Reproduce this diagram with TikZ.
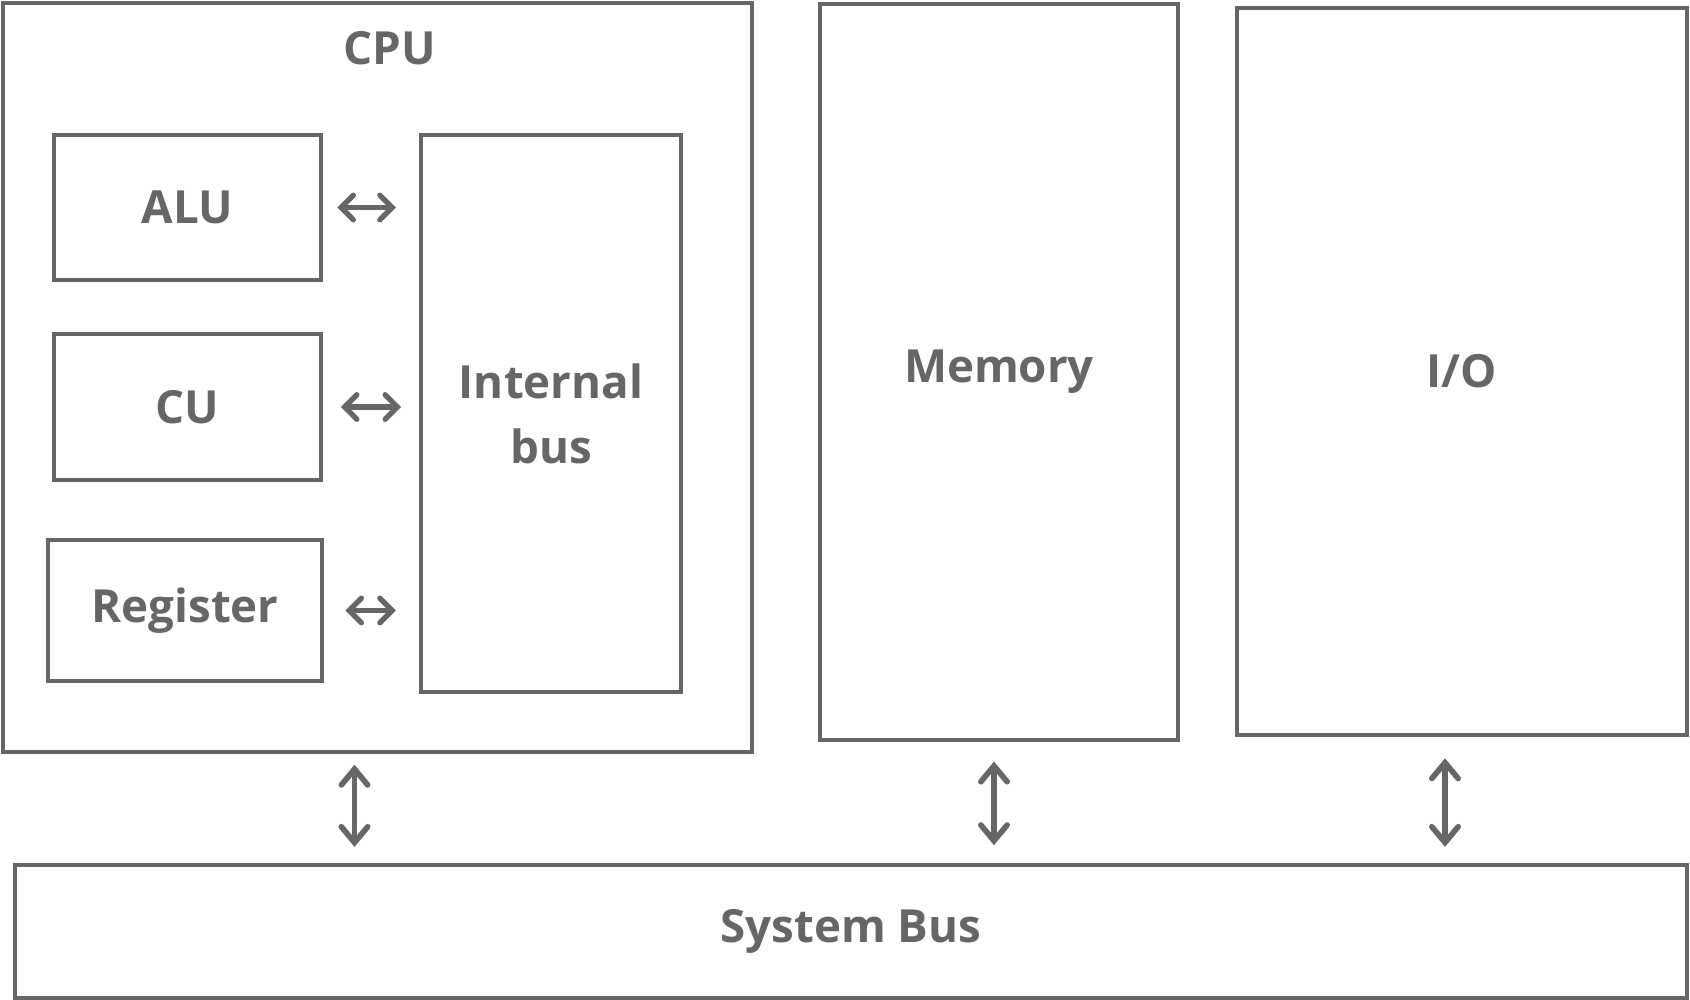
\documentclass[tikz,border=0pt]{standalone}
\usepackage{fontspec}
\setmainfont{Open Sans}
\usetikzlibrary{arrows.meta}
\definecolor{ink}{HTML}{666666}
\tikzset{
  box/.style={draw=ink, line width=2.6pt, rectangle, inner sep=0pt, text=ink,
    font=\fontsize{26}{37}\selectfont\bfseries, align=center},
  link/.style={draw=ink, line width=3pt, line cap=round,
    {Straight Barb[length=7pt,width=14pt,line cap=round]}-{Straight Barb[length=7pt,width=14pt,line cap=round]}},
  vlink/.style={draw=ink, line width=3.2pt, line cap=round,
    {Straight Barb[length=9pt,width=15pt,line cap=round]}-{Straight Barb[length=9pt,width=15pt,line cap=round]}},
  lbl/.style={text=ink, font=\fontsize{26}{37}\selectfont\bfseries, inner sep=0pt}
}
\begin{document}
\begin{tikzpicture}[x=0.02cm,y=-0.02cm]
\useasboundingbox (0,0) rectangle (1690,1000);
% boxes
\node[box, minimum width=14.98cm, minimum height=14.98cm] (cpu) at (377.5,377.5) {};
\node[lbl] (cputxt) at (390,48) {CPU};
\node[box, minimum width=5.34cm, minimum height=2.9cm] (alu) at (187.5,207.5) {ALU};
\node[box, minimum width=5.34cm, minimum height=2.92cm] (cu) at (187.5,407) {CU};
\node[box, minimum width=5.48cm, minimum height=2.82cm] (reg) at (185,610.5) {Register};
\node[box, minimum width=5.2cm, minimum height=11.14cm] (ibus) at (551,413.5) {Internal\\bus};
\node[box, minimum width=7.16cm, minimum height=14.72cm] (mem) at (999,372) {Memory};
\node[box, minimum width=9.0cm, minimum height=14.54cm] (io) at (1462,371.5) {I/O};
\node[box, minimum width=33.44cm, minimum height=2.66cm] (sbus) at (851,931.5) {System Bus};
% internal links
\draw[link, shorten <=8pt, shorten >=13pt] (alu.east) -- (alu.east -| ibus.west);
\draw[link, shorten <=10pt, shorten >=10pt] (cu.east) -- (cu.east -| ibus.west);
\draw[link, shorten <=12pt, shorten >=13pt] (reg.east) -- (reg.east -| ibus.west);
% system links
\draw[vlink, shorten <=6pt, shorten >=9pt] ([xshift=-0.46cm]cpu.south) -- ([xshift=-0.46cm]cpu.south |- sbus.north);
\draw[vlink, shorten <=11pt, shorten >=10pt] ([xshift=-0.1cm]mem.south) -- ([xshift=-0.1cm]mem.south |- sbus.north);
\draw[vlink, shorten <=12pt, shorten >=9pt] ([xshift=-0.34cm]io.south) -- ([xshift=-0.34cm]io.south |- sbus.north);
\end{tikzpicture}
\end{document}
